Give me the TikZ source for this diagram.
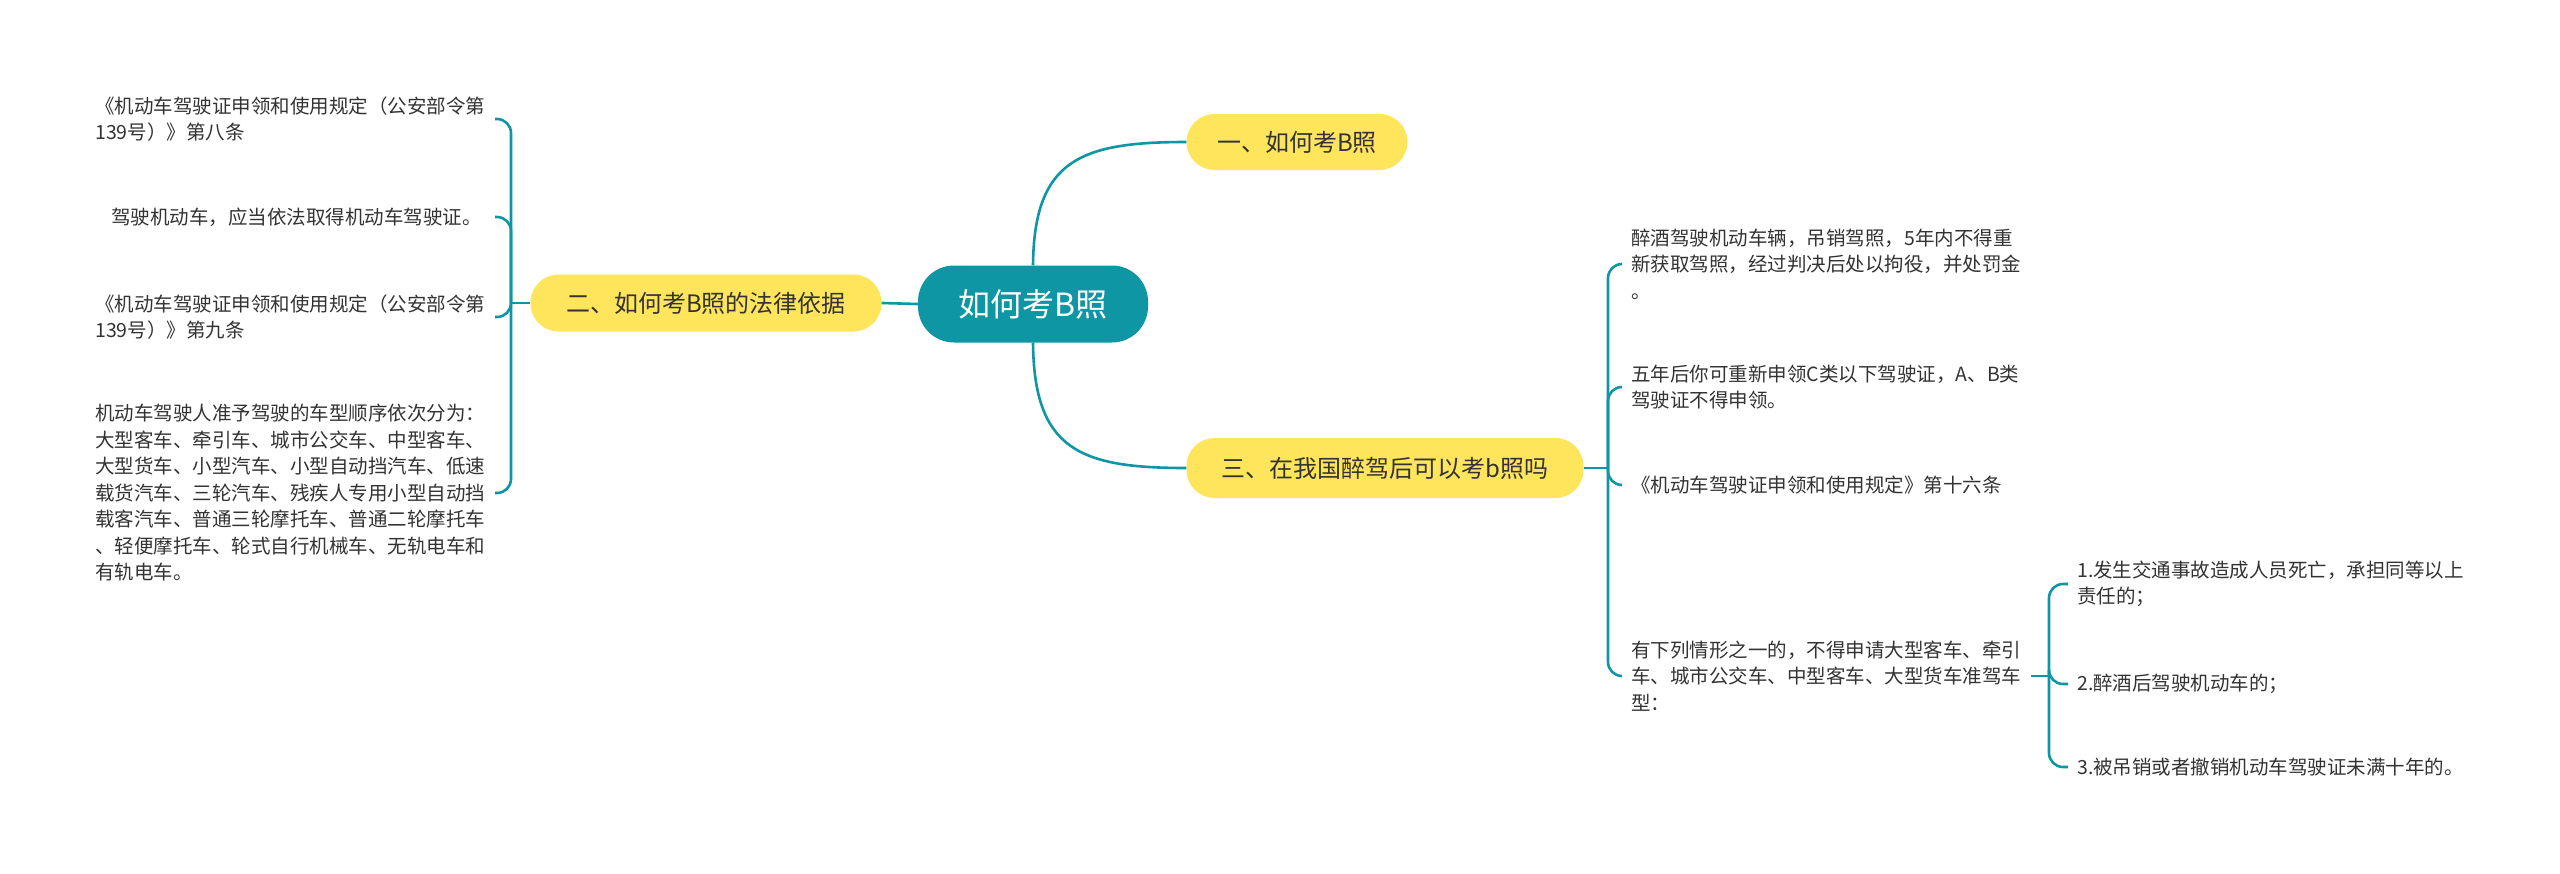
\documentclass[tikz,border=0pt]{standalone}
\usepackage{fontspec}
\setmainfont{Noto Sans CJK SC}
\definecolor{teal1}{HTML}{0E96A4}
\definecolor{yel}{HTML}{FFE55C}
\definecolor{txt}{HTML}{333333}
\begin{document}
\begin{tikzpicture}[x=1pt,y=-1pt,
  leaf/.style={inner sep=0pt,align=left,text=txt,font=\fontsize{19.5}{26.5}\selectfont},
  topic/.style={fill=yel,rounded corners=28pt,inner sep=0pt,text=txt,font=\fontsize{24}{28}\selectfont},
  link/.style={draw=teal1,line width=2.6pt},
  br/.style={link,rounded corners=14pt}]
\useasboundingbox (0,0) rectangle (2560,873);
\fill[white] (0,0) rectangle (2560,873);
\node[fill=teal1,rounded corners=36pt,minimum width=230pt,minimum height=77pt,inner sep=0pt,text=white,font=\fontsize{32}{36}\selectfont] (c) at (1033,304) {如何考B照};
\node[topic,minimum width=221pt,minimum height=56pt] (t1) at (1297,142) {一、如何考B照};
\node[topic,minimum width=351pt,minimum height=57pt] (t2) at (706,303) {二、如何考B照的法律依据};
\node[topic,minimum width=397pt,minimum height=60pt] (t3) at (1385,468) {三、在我国醉驾后可以考b照吗};
\draw[link] (c.north) .. controls (1034,160) and (1080,142) .. (t1.west);
\draw[link] (c.south) .. controls (1034,450) and (1080,468) .. (t3.west);
\draw[link] (c.west) -- (t2.east);
% left leaves
\node[leaf,anchor=west] (l1) at (95,119) {《机动车驾驶证申领和使用规定（公安部令第\\139号）》第八条};
\node[leaf,anchor=west] (l2) at (111,217) {驾驶机动车，应当依法取得机动车驾驶证。};
\node[leaf,anchor=west] (l3) at (95,317) {《机动车驾驶证申领和使用规定（公安部令第\\139号）》第九条};
\node[leaf,anchor=west] (l4) at (95,493) {机动车驾驶人准予驾驶的车型顺序依次分为：\\大型客车、牵引车、城市公交车、中型客车、\\大型货车、小型汽车、小型自动挡汽车、低速\\载货汽车、三轮汽车、残疾人专用小型自动挡\\载客汽车、普通三轮摩托车、普通二轮摩托车\\、轻便摩托车、轮式自行机械车、无轨电车和\\有轨电车。};
\coordinate (jL) at (511,303);
\coordinate (eL) at (495,0);
\draw[link] (t2.west) -- (jL);
\foreach \n in {l1,l2,l3,l4} \draw[br] (jL) |- (\n.west -| eL);
% right leaves
\node[leaf,anchor=west] (r1) at (1631,264) {醉酒驾驶机动车辆，吊销驾照，5年内不得重\\新获取驾照，经过判决后处以拘役，并处罚金\\。};
\node[leaf,anchor=west] (r2) at (1631,387) {五年后你可重新申领C类以下驾驶证，A、B类\\驾驶证不得申领。};
\node[leaf,anchor=west] (r3) at (1631,485) {《机动车驾驶证申领和使用规定》第十六条};
\node[leaf,anchor=west] (r4) at (1631,676) {有下列情形之一的，不得申请大型客车、牵引\\车、城市公交车、中型客车、大型货车准驾车\\型：};
\coordinate (jR) at (1608,468);
\coordinate (eR) at (1622,0);
\draw[link] (t3.east) -- (jR);
\foreach \n in {r1,r2,r3,r4} \draw[br] (jR) |- (\n.west -| eR);
% sub leaves
\node[leaf,anchor=west] (s1) at (2077,584) {1.发生交通事故造成人员死亡，承担同等以上\\责任的；};
\node[leaf,anchor=west] (s2) at (2077,684) {2.醉酒后驾驶机动车的；};
\node[leaf,anchor=west] (s3) at (2077,767) {3.被吊销或者撤销机动车驾驶证未满十年的。};
\coordinate (jS) at (2049,676);
\coordinate (eS0) at (2031,0);
\coordinate (eS) at (2068,0);
\draw[link] (r4.west -| eS0) -- (jS);
\foreach \n in {s1,s2,s3} \draw[br] (jS) |- (\n.west -| eS);
\end{tikzpicture}
\end{document}
